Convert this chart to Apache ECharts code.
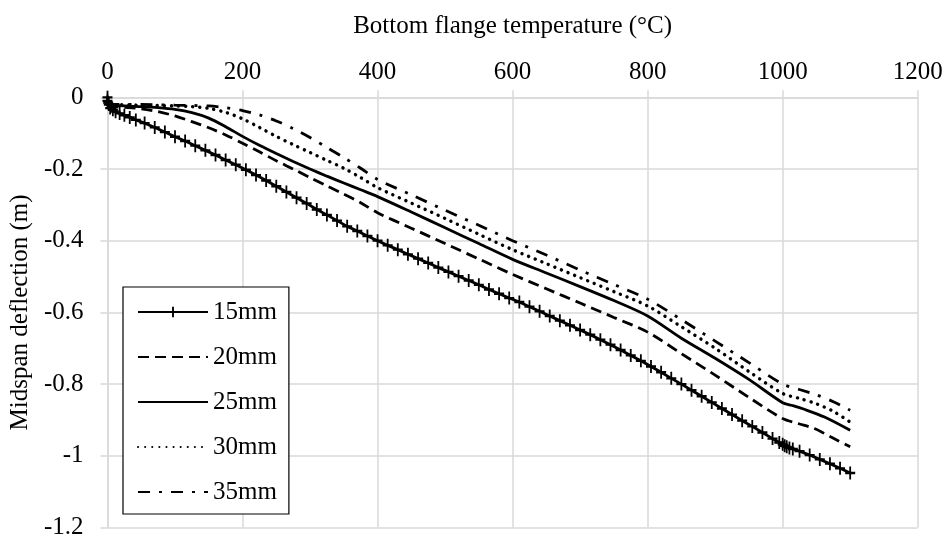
<!DOCTYPE html>
<html>
<head>
<meta charset="utf-8">
<script src="https://cdn.jsdelivr.net/npm/echarts@6/dist/echarts.min.js"></script>
<style>
  html, body { margin: 0; padding: 0; background: #fff; }
  #chart { width: 948px; height: 540px; }
</style>
</head>
<body>
<div id="chart"></div>
<script>
// Midspan deflection against bottom flange temperature, five cases
const xTicks = [0, 200, 400, 600, 800, 1000, 1200];
const yTicks = [0, -0.2, -0.4, -0.6, -0.8, -1, -1.2];

const seriesNames = ['15mm', '20mm', '25mm', '30mm', '35mm'];

const temp15 = [0, 0, 1, 2, 4, 8, 12, 18, 25, 33, 42, 55, 70, 85, 100, 115, 130, 145, 160, 175, 190, 205,
  220, 235, 250, 265, 280, 295, 310, 325, 340, 355, 370, 385, 400, 415, 430, 445, 460, 475, 490, 505,
  520, 535, 550, 565, 580, 595, 610, 625, 640, 655, 670, 685, 700, 715, 730, 745, 760, 775, 790, 805,
  820, 835, 850, 865, 880, 895, 910, 925, 940, 955, 970, 985, 995, 1000, 1003, 1006, 1010, 1015, 1025,
  1040, 1055, 1070, 1085, 1100];
const defl15 = [0, -0.01, -0.015, -0.02, -0.03, -0.035, -0.04, -0.045, -0.05, -0.056, -0.063, -0.072, -0.084, -0.097,
  -0.11, -0.122, -0.135, -0.148, -0.161, -0.175, -0.188, -0.202, -0.217, -0.232, -0.248, -0.264, -0.28,
  -0.296, -0.313, -0.328, -0.344, -0.36, -0.373, -0.387, -0.4, -0.413, -0.425, -0.438, -0.45, -0.462,
  -0.475, -0.487, -0.499, -0.511, -0.523, -0.536, -0.548, -0.56, -0.571, -0.584, -0.597, -0.61, -0.623,
  -0.636, -0.649, -0.662, -0.676, -0.69, -0.705, -0.72, -0.735, -0.751, -0.767, -0.784, -0.8, -0.817,
  -0.834, -0.851, -0.868, -0.885, -0.902, -0.918, -0.935, -0.952, -0.963, -0.968, -0.972, -0.975, -0.978,
  -0.981, -0.987, -0.998, -1.01, -1.022, -1.035, -1.048];

const temp20 = [0, 25, 50, 75, 100, 125, 150, 175, 200, 225, 250, 275, 300, 325, 350, 375, 400, 450, 500,
  550, 600, 650, 700, 750, 800, 850, 900, 950, 1000, 1023, 1047, 1071, 1100];
const defl20 = [-0.025, -0.028, -0.032, -0.04, -0.052, -0.068, -0.085, -0.105, -0.128, -0.152, -0.177, -0.2,
  -0.224, -0.247, -0.27, -0.294, -0.322, -0.365, -0.408, -0.451, -0.494, -0.534, -0.574, -0.614, -0.655,
  -0.715, -0.775, -0.837, -0.896, -0.91, -0.924, -0.947, -0.975];

const temp25 = [0, 25, 50, 75, 100, 125, 150, 175, 200, 225, 250, 275, 300, 325, 350, 375, 400, 450, 500,
  550, 600, 650, 700, 750, 800, 850, 900, 950, 1000, 1013, 1033, 1062, 1100];
const defl25 = [-0.022, -0.024, -0.026, -0.029, -0.034, -0.043, -0.058, -0.082, -0.109, -0.134, -0.157, -0.179,
  -0.2, -0.22, -0.239, -0.258, -0.277, -0.32, -0.364, -0.408, -0.452, -0.49, -0.528, -0.567, -0.61, -0.672,
  -0.728, -0.787, -0.852, -0.859, -0.871, -0.892, -0.929];

const temp30 = [0, 50, 100, 125, 150, 175, 200, 225, 250, 275, 300, 325, 350, 375, 400, 450, 500, 550, 600,
  650, 700, 750, 800, 850, 900, 950, 1000, 1025, 1050, 1075, 1100];
const defl30 = [-0.02, -0.022, -0.024, -0.026, -0.031, -0.042, -0.06, -0.084, -0.109, -0.132, -0.154, -0.176,
  -0.198, -0.224, -0.252, -0.295, -0.338, -0.382, -0.425, -0.464, -0.503, -0.542, -0.582, -0.64, -0.7,
  -0.765, -0.826, -0.84, -0.855, -0.876, -0.906];

const temp35 = [0, 50, 100, 150, 175, 200, 225, 250, 275, 300, 325, 350, 375, 400, 450, 500, 550, 600, 650,
  700, 750, 800, 850, 900, 950, 1000, 1025, 1050, 1075, 1100];
const defl35 = [-0.02, -0.02, -0.022, -0.024, -0.029, -0.037, -0.049, -0.066, -0.087, -0.112, -0.14, -0.168,
  -0.198, -0.229, -0.272, -0.315, -0.357, -0.4, -0.44, -0.482, -0.522, -0.563, -0.62, -0.68, -0.74, -0.8,
  -0.815, -0.83, -0.849, -0.873];

const pairs = (xs, ys) => xs.map((x, i) => [x, ys[i]]);

const FONT = '"Liberation Serif", "Times New Roman", serif';
const FS = 25;
const GRID = '#d9d9d9';
const plusSymbol = 'path://M4.1,0H5.9V4.1H10V5.9H5.9V10H4.1V5.9H0V4.1H4.1Z';

const chart = echarts.init(document.getElementById('chart'), null, { renderer: 'canvas' });

// legend entries: only the 15mm line carries a marker
const legendData = seriesNames.map((n, i) => i === 0 ? { name: n } : { name: n, itemStyle: { opacity: 0 } });

const curve = (name, xs, ys, lineStyle) => ({
  name, type: 'line', data: pairs(xs, ys), symbol: 'none',
  smooth: 0.3,
  itemStyle: { color: '#000' },
  lineStyle: Object.assign({ color: '#000', width: 2.8 }, lineStyle)
});

chart.setOption({
  animation: false,
  backgroundColor: '#fff',
  textStyle: { fontFamily: FONT, color: '#000' },
  grid: { left: 106.7, right: 30.3, top: 97.3, bottom: 10.7, containLabel: false },
  xAxis: {
    type: 'value', position: 'top', min: 0, max: 1200, interval: 200,
    name: 'Bottom flange temperature (°C)', nameLocation: 'middle', nameGap: 58,
    nameTextStyle: { fontFamily: FONT, fontSize: FS, color: '#000' },
    axisLine: { show: true, onZero: false, lineStyle: { color: GRID, width: 1.5 } },
    axisTick: { show: true, length: 7, lineStyle: { color: GRID, width: 1.5 } },
    axisLabel: { fontFamily: FONT, fontSize: FS, color: '#000', margin: 12,
      formatter: v => xTicks.includes(v) ? String(v) : '' },
    splitLine: { show: true, lineStyle: { color: GRID, width: 1.5 } }
  },
  yAxis: {
    type: 'value', min: -1.2, max: 0, interval: 0.2,
    name: 'Midspan deflection (m)', nameLocation: 'middle', nameGap: 72,
    nameTextStyle: { fontFamily: FONT, fontSize: FS, color: '#000' },
    axisLine: { show: true, onZero: false, lineStyle: { color: GRID, width: 1.5 } },
    axisTick: { show: true, length: 7, lineStyle: { color: GRID, width: 1.5 } },
    axisLabel: { fontFamily: FONT, fontSize: FS, color: '#000', margin: 24,
      formatter: v => {
        const t = yTicks.find(k => Math.abs(k - v) < 1e-9);
        return t === undefined ? '' : String(t);
      } },
    splitLine: { show: true, lineStyle: { color: GRID, width: 1.5 } }
  },
  legend: {
    orient: 'vertical', left: 123, top: 287,
    padding: [12, 12, 9, 14],
    itemWidth: 70, itemHeight: 13, itemGap: 19,
    borderColor: '#000', borderWidth: 1.2, backgroundColor: '#fff',
    textStyle: { fontFamily: FONT, fontSize: FS, color: '#000', lineHeight: 26 },
    data: legendData
  },
  series: [
    {
      name: seriesNames[0], type: 'line', data: pairs(temp15, defl15),
      symbol: plusSymbol, symbolSize: [10, 13], showSymbol: true,
      itemStyle: { color: '#000' },
      lineStyle: { color: '#000', width: 2.8 }, z: 5
    },
    curve(seriesNames[1], temp20, defl20, { type: [11, 6] }),
    curve(seriesNames[2], temp25, defl25, {}),
    curve(seriesNames[3], temp30, defl30, { width: 3.4, type: [0.1, 7], cap: 'round' }),
    curve(seriesNames[4], temp35, defl35, { type: [12, 9, 3, 9] })
  ]
});
</script>
</body>
</html>
